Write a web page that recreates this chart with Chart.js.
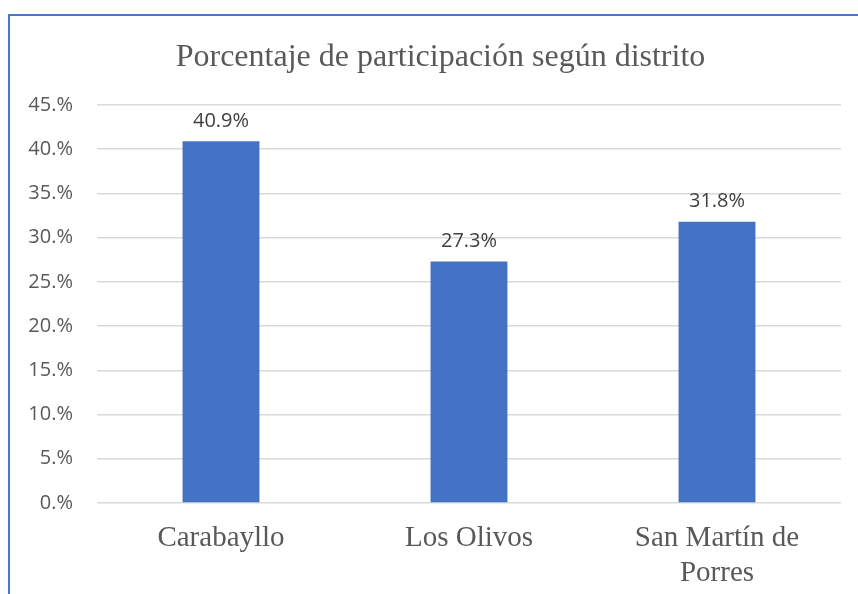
<!DOCTYPE html>
<html>
<head>
<meta charset="utf-8">
<script src="https://cdn.jsdelivr.net/npm/chart.js@4/dist/chart.umd.min.js"></script>
<style>
  html, body { margin: 0; padding: 0; background: #fff; overflow: hidden; }
  #marco { position: absolute; left: 8px; top: 14px; width: 900px; height: 700px;
           border-left: 2px solid #4a78c8; border-top: 2px solid #4a78c8; }
  #lienzo { position: absolute; left: 0; top: 0; }
</style>
</head>
<body>
<div id="marco"></div>
<canvas id="lienzo" width="858" height="594"></canvas>
<script>
"use strict";
// Datos del gráfico
const distritos = ["Carabayllo", "Los Olivos", ["San Martín de", "Porres"]];
const porcentajes = [40.9, 27.3, 31.8];
const etiquetasEje = ["0.%", "5.%", "10.%", "15.%", "20.%", "25.%", "30.%", "35.%", "40.%", "45.%"];
const titulo = "Porcentaje de participación según distrito";

const gris = "#595959";

// Etiquetas de datos encima de cada barra
const etiquetasDatos = {
    id: "etiquetasDatos",
    afterDatasetsDraw(chart) {
        const ctx = chart.ctx;
        const meta = chart.getDatasetMeta(0);
        ctx.save();
        ctx.font = "20px 'Open Sans'";
        ctx.fillStyle = "#404040";
        ctx.textAlign = "center";
        ctx.textBaseline = "bottom";
        meta.data.forEach((barra, i) => {
            ctx.fillText(porcentajes[i].toFixed(1) + "%", barra.x, barra.y - 10);
        });
        ctx.restore();
    }
};

// Título del gráfico (centrado sobre el marco, como en Excel)
const tituloGrafico = {
    id: "tituloGrafico",
    afterDraw(chart) {
        const ctx = chart.ctx;
        ctx.save();
        ctx.font = "32px 'Liberation Serif'";
        ctx.fillStyle = gris;
        ctx.textAlign = "center";
        ctx.textBaseline = "alphabetic";
        ctx.fillText(titulo, 440.5, 66);
        ctx.restore();
    }
};

const data = {
    labels: distritos,
    datasets: [{
        label: "Porcentaje",
        data: porcentajes,
        backgroundColor: "#4472C4",
        categoryPercentage: 1,
        barPercentage: 0.31
    }]
};

const config = {
    type: "bar",
    data: data,
    plugins: [etiquetasDatos, tituloGrafico],
    options: {
        responsive: false,
        animation: false,
        layout: { padding: { left: 0, right: 17, top: 105, bottom: 0 } },
        plugins: {
            legend: { display: false },
            tooltip: { enabled: false },
            title: { display: false }
        },
        scales: {
            x: {
                grid: { display: false },
                border: { display: false },
                ticks: {
                    color: gris,
                    padding: 10,
                    maxRotation: 0,
                    font: { family: "'Liberation Serif'", size: 29, lineHeight: 1.2 }
                },
                afterFit: (escala) => { escala.height = 91; }
            },
            y: {
                min: 0,
                max: 45,
                grid: { color: "#D9D9D9", lineWidth: 1.5, drawTicks: false },
                border: { display: false },
                ticks: {
                    stepSize: 5,
                    color: gris,
                    padding: 24,
                    font: { family: "'Open Sans'", size: 20 },
                    callback: (valor, indice) => etiquetasEje[indice]
                },
                afterFit: (escala) => { escala.width = 97; }
            }
        }
    }
};

new Chart(document.querySelector("#lienzo"), config);
</script>
</body>
</html>
